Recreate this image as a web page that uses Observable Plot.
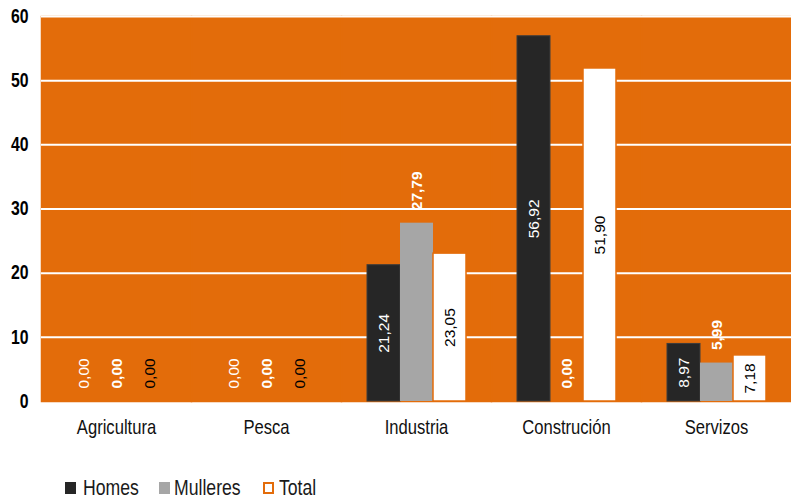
<!DOCTYPE html>
<html>
<head>
<meta charset="utf-8">
<script src="https://cdn.jsdelivr.net/npm/d3@7"></script>
<script src="https://cdn.jsdelivr.net/npm/@observablehq/plot@0.6"></script>
<style>
  html, body { margin: 0; padding: 0; background: #fff; }
  #wrap { position: relative; width: 791px; height: 503px; overflow: hidden; font-family: "Liberation Sans", Arial, sans-serif; }
  #legend { position: absolute; left: 0; top: 476px; width: 791px; height: 26px; font-family: "Liberation Sans", Arial, sans-serif; font-size: 21.5px; color: #1a1a1a; }
  .sw { position: absolute; top: 6px; width: 11px; height: 12px; box-sizing: border-box; }
  .lbl { position: absolute; top: 0; white-space: nowrap; transform: scaleX(0.82); transform-origin: left center; }
</style>
</head>
<body>
<div id="wrap">
  <div id="chart"></div>
  <div id="legend"></div>
</div>
<script>
const categories = ["Agricultura", "Pesca", "Industria", "Construción", "Servizos"];
const series = ["Homes", "Mulleres", "Total"];
const homes = [0.00, 0.00, 21.24, 56.92, 8.97];
const mulleres = [0.00, 0.00, 27.79, 0.00, 5.99];
const total = [0.00, 0.00, 23.05, 51.90, 7.18];
const yTicks = [0, 10, 20, 30, 40, 50, 60];
const gridTicks = [10, 20, 30, 40, 50, 60];

const orange = "#E36C0A";
const seriesValues = {Homes: homes, Mulleres: mulleres, Total: total};
const rows = [];
categories.forEach((c, i) => series.forEach(s => rows.push({category: c, series: s, value: seriesValues[s][i]})));
const fmt = d => d.value.toFixed(2).replace(".", ",");
const of = s => rows.filter(d => d.series === s);

const labelBase = {fx: "category", x: "series", text: fmt, rotate: -90, fontSize: 15.5, fontFamily: "Liberation Sans, Arial, sans-serif"};

const chart = Plot.plot({
  width: 791,
  height: 470,
  marginLeft: 41,
  marginRight: 0,
  marginTop: 16,
  marginBottom: 69,
  style: {fontFamily: "Liberation Sans, Arial, sans-serif", background: "transparent", overflow: "visible"},
  fx: {domain: categories, padding: 0},
  x: {domain: series, paddingInner: 0, paddingOuter: 0.75, axis: null},
  y: {domain: [0, 60]},
  marks: [
    Plot.frame({fill: orange, stroke: orange, strokeWidth: 1.5}),
    Plot.ruleY(gridTicks, {stroke: "white", strokeWidth: 2}),
    Plot.barY(of("Homes").filter(d => d.value > 0), {fx: "category", x: "series", y: "value", fill: "#262626", stroke: "#3c3c3c", strokeWidth: 1, inset: 0}),
    Plot.barY(of("Mulleres").filter(d => d.value > 0), {fx: "category", x: "series", y: "value", fill: "#A6A6A6", inset: 0}),
    Plot.barY(of("Total").filter(d => d.value > 0), {fx: "category", x: "series", y: "value", fill: "white", stroke: orange, strokeWidth: 1.5, inset: 0}),
    Plot.text(of("Homes").filter(d => d.value > 0), {...labelBase, y: d => d.value / 2, fill: "white"}),
    Plot.text(of("Homes").filter(d => d.value === 0), {...labelBase, y: "value", textAnchor: "start", dy: -13, fill: "white"}),
    Plot.text(of("Mulleres"), {...labelBase, y: "value", textAnchor: "start", dy: -13, fill: "white", fontWeight: "bold"}),
    Plot.text(of("Total").filter(d => d.value > 0), {...labelBase, y: d => d.value / 2, fill: "black"}),
    Plot.text(of("Total").filter(d => d.value === 0), {...labelBase, y: "value", textAnchor: "start", dy: -13, fill: "black"}),
    Plot.axisY({ticks: yTicks, tickSize: 0, tickPadding: 13, fontSize: 19.5, fontWeight: "bold", fill: "black", label: null}),
    Plot.axisFx({anchor: "bottom", tickSize: 0, tickPadding: 18, fontSize: 20.5, fill: "#111", label: null})
  ]
});
// condense axis tick labels horizontally (narrow type as in the original)
chart.querySelectorAll('g[aria-label="y-axis tick label"] text, g[aria-label="fx-axis tick label"] text').forEach(t => {
  const tr = t.getAttribute("transform") || "";
  t.setAttribute("transform", tr + " scale(0.81,1)");
});
document.getElementById("chart").appendChild(chart);

const legendItems = [
  {name: "Homes", sw: 65, tx: 83, style: "background:#262626;"},
  {name: "Mulleres", sw: 159, tx: 174, style: "background:#A6A6A6;"},
  {name: "Total", sw: 263, tx: 279, style: "background:#fff;border:2px solid " + orange + ";"}
];
const legend = document.getElementById("legend");
legendItems.forEach(it => {
  const sw = document.createElement("div");
  sw.className = "sw";
  sw.style.cssText = it.style + "left:" + it.sw + "px;";
  legend.appendChild(sw);
  const t = document.createElement("div");
  t.className = "lbl";
  t.style.left = it.tx + "px";
  t.textContent = it.name;
  legend.appendChild(t);
});
</script>
</body>
</html>
